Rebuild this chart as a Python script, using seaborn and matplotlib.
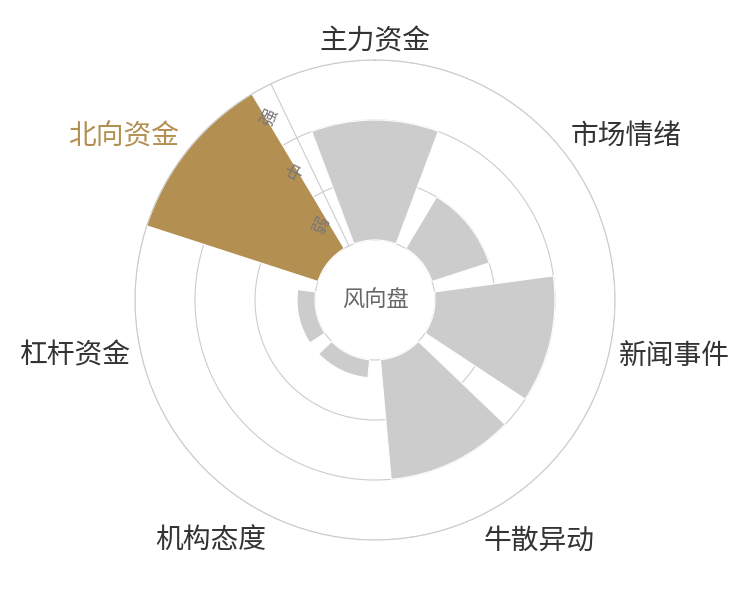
import numpy as np
import matplotlib
matplotlib.use("Agg")
import matplotlib.pyplot as plt
import seaborn as sns

# data
categories = ["主力资金", "市场情绪", "新闻事件", "牛散异动", "机构态度", "杠杆资金", "北向资金"]
strength = [2, 1, 2, 2, 0.3, 0.3, 3]
levels = ["弱", "中", "强"]
highlight = "北向资金"
center_title = "风向盘"

sns.set_theme(style="white")
plt.rcParams["font.family"] = ["Noto Sans CJK SC", "DejaVu Sans"]

gold = "#B48F52"
grey = "#CCCCCC"
line = "#CCCCCC"

n = len(categories)
step = 2 * np.pi / n
theta = np.arange(n) * step
hole = 1.0
top = hole + len(levels)

fig = plt.figure(figsize=(7.5, 6), dpi=100)
ax = fig.add_axes([0.18, 0.1, 0.64, 0.8], projection="polar")
ax.set_theta_zero_location("N")
ax.set_theta_direction(-1)
ax.set_ylim(0, top)
ax.set_axisbelow(True)

colors = [gold if c == highlight else grey for c in categories]
ax.bar(theta, strength, width=step * 0.8, bottom=hole, color=colors,
       edgecolor="white", linewidth=0.8, zorder=2)

# rings for the levels, no angular grid
ax.set_xticks([])
ax.set_yticks(np.arange(hole, top + 1))
ax.set_yticklabels([])
ax.yaxis.grid(True, color=line, linewidth=0.8)
ax.xaxis.grid(False)
ax.spines["polar"].set_color(line)
ax.spines["polar"].set_linewidth(0.8)

# radius axis sits on the boundary before the first category
axis_theta = -step / 2
ax.plot([axis_theta, axis_theta], [hole, top], color=line, lw=0.8, zorder=1)
for k, lv in enumerate(levels):
    ax.annotate(lv, xy=(axis_theta, hole + k + 0.5), xytext=(-10.4, -5.0),
                textcoords="offset points", ha="center", va="center",
                rotation=64.3, fontsize=12.5, color="#777777", zorder=5)

# category labels outside the ring
for t, c in zip(theta, categories):
    a = np.pi / 2 - t
    cx, sy = np.cos(a), np.sin(a)
    ha = "center" if abs(cx) < 0.3 else ("left" if cx > 0 else "right")
    va = "center" if abs(sy) < 0.3 else ("baseline" if sy > 0 else "top")
    ax.text(t, top + 0.17, c, ha=ha, va=va, fontsize=20,
            color=gold if c == highlight else "#333333")

ax.text(0, 0, center_title, ha="center", va="center", fontsize=16, color="#666666")

fig.savefig("out.png", dpi=100)
